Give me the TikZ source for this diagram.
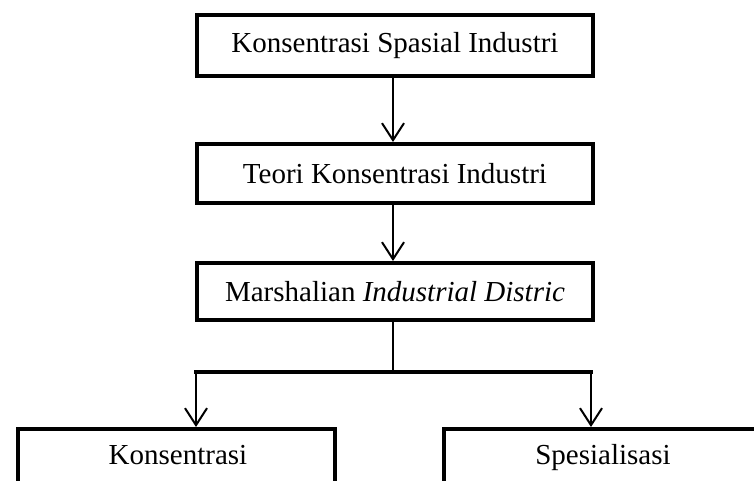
\documentclass[tikz,border=0pt]{standalone}
\usepackage{fontspec}
\setmainfont{Liberation Serif}
\usetikzlibrary{arrows.meta}
\begin{document}
\begin{tikzpicture}[x=1pt,y=-1pt,
  box/.style={draw=black, line width=4pt, minimum width=396pt, inner sep=0pt,
    font=\fontsize{29}{34}\selectfont},
  openbox/.style={draw=black, line width=4pt, inner sep=0pt},
  lbl/.style={font=\fontsize{29}{34}\selectfont, inner sep=0pt, anchor=base},
  conn/.style={line width=2pt, -{Straight Barb[length=17pt,width=22pt,line width=2pt]}},
  thinline/.style={line width=1.6pt},
  bar/.style={line width=3.3pt}]
\useasboundingbox (0,0) rectangle (754,481);
\clip (0,0) rectangle (754,481);

\node[box, minimum height=61pt] (a) at (395,45.5) {Konsentrasi Spasial Industri};
\node[box, minimum height=59pt] (b) at (395,173.5) {Teori Konsentrasi Industri};
\node[box, minimum height=57pt] (c) at (395,291.5) {Marshalian \textit{Industrial Distric}};

\node[openbox, minimum width=317pt, minimum height=120pt, anchor=north] (k) at (176.5,427) {};
\node[openbox, minimum width=318pt, minimum height=120pt, anchor=north] (s) at (603,427) {};
\node[lbl] (kt) at (178,464) {Konsentrasi};
\node[lbl] (st) at (603,464) {Spesialisasi};

\draw[conn] ([xshift=-2pt]a.south) -- ([xshift=-2pt]b.north);
\draw[conn] ([xshift=-2pt]b.south) -- ([xshift=-2pt]c.north);

\coordinate (j) at (393,372);
\coordinate (jl) at (196,372);
\coordinate (jr) at (591,372);
\draw[thinline] ([xshift=-2pt]c.south) -- (j);
\draw[bar] ([xshift=-1.6pt]jl) -- ([xshift=1.6pt]jr);
\draw[conn] (jl) -- (jl |- k.north);
\draw[conn] (jr) -- (jr |- s.north);
\end{tikzpicture}
\end{document}
